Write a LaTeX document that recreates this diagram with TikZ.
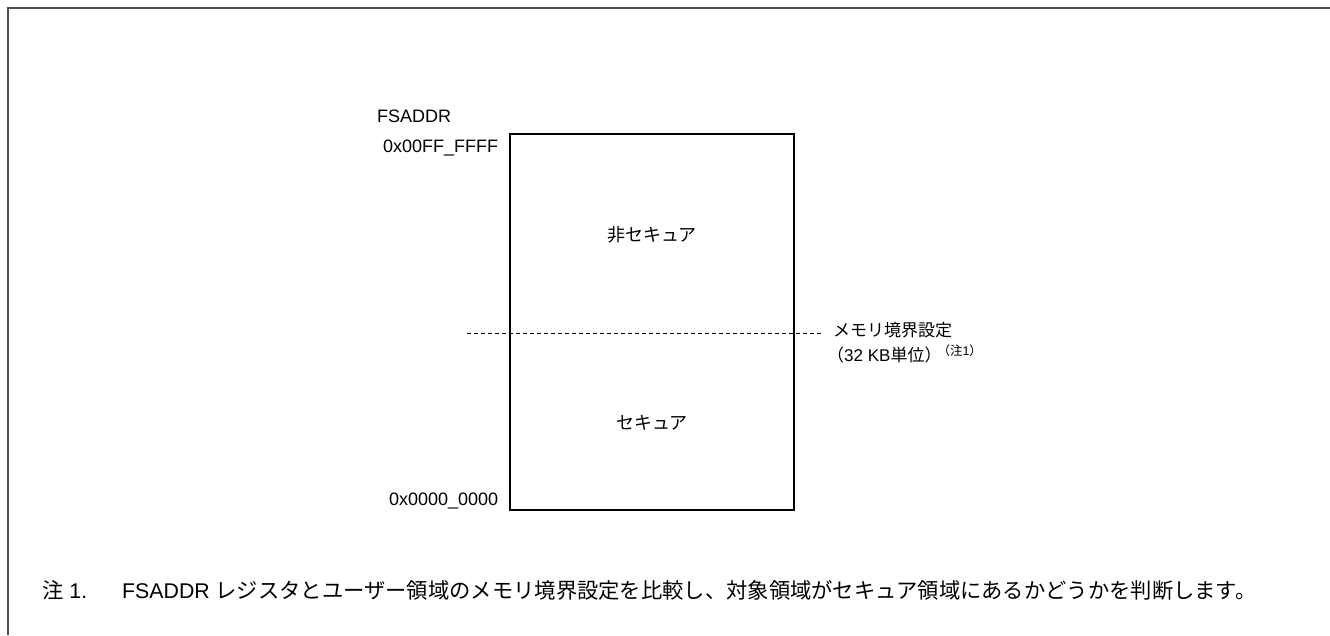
\documentclass[tikz,border=0pt]{standalone}
\usepackage{fontspec}
\setmainfont{Liberation Sans}
\newfontfamily\jp{Noto Sans CJK JP}
\usetikzlibrary{positioning}
\definecolor{FrameGray}{HTML}{505050}

\begin{document}
\begin{tikzpicture}[x=1pt,y=-1pt, every node/.style={font=\fontsize{18}{23}\selectfont,inner sep=0pt}]
  \useasboundingbox (0,0) rectangle (1330,635);
  % open frame, top and left only
  \draw[FrameGray,line width=2.2pt] (8,635) -- (8,8) -- (1330,8);
  \node[draw,line width=1.3pt,minimum width=284pt,minimum height=376pt] (mem) at (652,322) {};
  \node[anchor=base east] (hi) at ([xshift=-11pt,yshift=-19.5pt]mem.north west) {0x00FF\_FFFF};
  \node[anchor=base east] (lo) at ([xshift=-11pt,yshift=5pt]mem.south west) {0x0000\_0000};
  \node[anchor=base west] (reg) at ([xshift=-6pt,yshift=30pt]hi.base west) {FSADDR};
  \node (nsec) at (652,235) {\jp 非セキュア};
  \node (sec) at (652,423) {\jp セキュア};
  % boundary
  \coordinate (bl) at (467,333);
  \coordinate (br) at (822,333);
  \draw[line width=0.9pt,dash pattern=on 4pt off 3pt] (bl) -- (br);
  \node[anchor=base west,font=\fontsize{17}{23}\selectfont] (bnd) at ([xshift=11pt,yshift=-3.5pt]br) {\jp メモリ境界設定};
  \node[anchor=base west,font=\fontsize{17}{23}\selectfont] (unit) at ([xshift=-6pt,yshift=-25pt]bnd.base west)
    {{\jp （}32 KB{\jp 単位）}\kern-4pt\raisebox{6pt}{\fontsize{12.5}{14}\selectfont{\jp （注}1{\jp ）}}};
  % note
  \node[anchor=base west,font=\fontsize{21.3}{25}\selectfont] (note) at (42,598)
    {\makebox[80pt][l]{{\jp 注} 1.}FSADDR {\jp レジスタとユーザー領域のメモリ境界設定を比較し、対象領域がセキュア領域にあるかどうかを判断します。}};
\end{tikzpicture}
\end{document}
